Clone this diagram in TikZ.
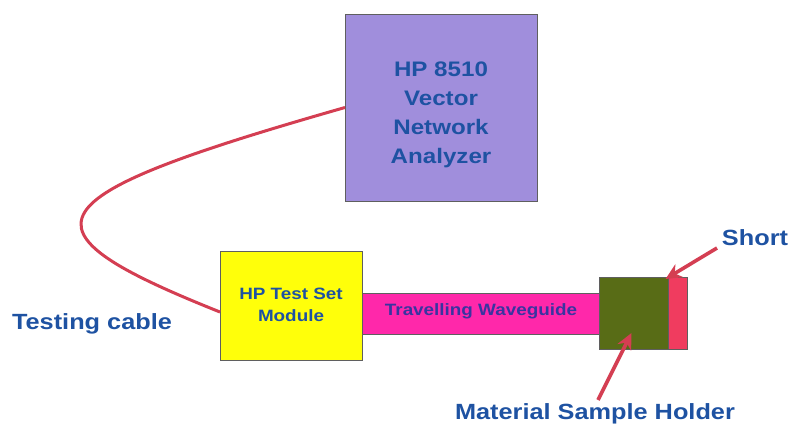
\documentclass[tikz,border=0pt]{standalone}
\usepackage{fontspec}
\setmainfont{Liberation Sans}[FakeStretch=1.15]
\usetikzlibrary{arrows.meta}
\definecolor{txtblue}{RGB}{30,82,162}
\definecolor{wgtxt}{RGB}{58,52,160}
\definecolor{vnafill}{RGB}{160,142,220}
\definecolor{tsfill}{RGB}{255,255,10}
\definecolor{wgfill}{RGB}{255,40,170}
\definecolor{holdfill}{RGB}{88,108,22}
\definecolor{shortfill}{RGB}{240,60,95}
\definecolor{cablered}{RGB}{212,62,82}
\definecolor{edge}{RGB}{95,95,95}
\tikzset{
  blk/.style={draw=edge, line width=0.8pt, inner sep=0pt, outer sep=0pt},
  lbl/.style={text=txtblue, font=\bfseries, align=center, inner sep=0pt},
  pointer/.style={draw=cablered, line width=3.6pt, -{Stealth[length=16pt,width=15pt]}},
  cable/.style={draw=cablered, line width=3pt}
}
\begin{document}
\begin{tikzpicture}[x=1pt,y=-1pt]
\useasboundingbox (0,0) rectangle (788,425);
% blocks
\node[blk, fill=vnafill, minimum width=192pt, minimum height=187pt] (vna) at (441,107.5) {};
\node[blk, fill=tsfill, minimum width=142pt, minimum height=109pt] (tsm) at (291,305.5) {};
\node[blk, fill=wgfill, minimum width=237pt, minimum height=41pt, anchor=west] (wg) at (tsm.east |- 0,313.5) {};
\node[blk, fill=holdfill, minimum width=69pt, minimum height=72pt] (hold) at (633.5,313) {};
\node[blk, fill=shortfill, minimum width=19pt, minimum height=72pt, anchor=west] (short) at (hold.east) {};
% texts in blocks
\node[lbl, font=\fontsize{21}{29}\selectfont\bfseries] (vnat) at (441,115) {HP 8510\\Vector\\Network\\Analyzer};
\node[lbl, font=\fontsize{16.4}{22}\selectfont\bfseries] (tsmt) at (291,305) {HP Test Set\\Module};
\node[lbl, text=wgtxt, font=\fontsize{16.4}{20}\selectfont\bfseries] (wgt) at (481,311) {Travelling Waveguide};
% free labels
\node[lbl, font=\fontsize{22}{26}\selectfont\bfseries, anchor=base] (tc) at (92,329) {Testing cable};
\node[lbl, font=\fontsize{22}{26}\selectfont\bfseries, anchor=base] (sh) at (755,246) {Short};
\node[lbl, font=\fontsize{22}{26}\selectfont\bfseries, anchor=base] (msh) at (595,419) {Material Sample Holder};
% cable
\draw[cable] (vna.west) .. controls (28,198) and (9.5,228) .. ([yshift=-6.5pt]tsm.west);
% pointers
\coordinate (shs) at (717,248);
\coordinate (mss) at (598,400);
\draw[pointer] (shs) -- ([xshift=-12pt,yshift=-2pt]short.north);
\draw[pointer] (mss) -- ([xshift=-2pt,yshift=-20pt]hold.center);
\end{tikzpicture}
\end{document}
